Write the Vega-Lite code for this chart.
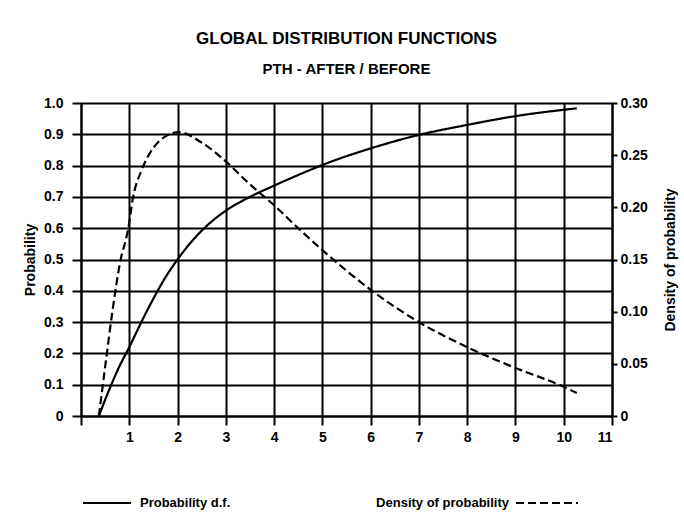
{
  "$schema": "https://vega.github.io/schema/vega-lite/v6.json",
  "width": 531,
  "height": 313,
  "autosize": {"type": "none"},
  "padding": {"left": 81, "top": 103, "right": 72, "bottom": 97},
  "background": "white",
  "config": {
    "font": "Liberation Sans",
    "view": {"stroke": null},
    "axis": {"labelFontWeight": "bold", "titleFontWeight": "bold", "labelColor": "black", "titleColor": "black", "domainColor": "black", "tickColor": "black", "domainWidth": 2, "tickWidth": 2}
  },
  "title": {
    "text": "GLOBAL DISTRIBUTION FUNCTIONS",
    "subtitle": "PTH - AFTER / BEFORE",
    "anchor": "middle",
    "fontSize": 17,
    "fontWeight": "bold",
    "subtitleFontSize": 15,
    "subtitleFontWeight": "bold",
    "subtitleColor": "black",
    "color": "black",
    "subtitlePadding": 14,
    "offset": 18
  },
  "data": {
    "values": [
      {"series": "Probability d.f.", "x": 0.37, "v": 0},
      {"series": "Probability d.f.", "x": 0.6, "v": 0.09},
      {"series": "Probability d.f.", "x": 0.8, "v": 0.16},
      {"series": "Probability d.f.", "x": 1.0, "v": 0.22},
      {"series": "Probability d.f.", "x": 1.25, "v": 0.3},
      {"series": "Probability d.f.", "x": 1.5, "v": 0.375},
      {"series": "Probability d.f.", "x": 1.75, "v": 0.443},
      {"series": "Probability d.f.", "x": 2.0, "v": 0.5},
      {"series": "Probability d.f.", "x": 2.25, "v": 0.55},
      {"series": "Probability d.f.", "x": 2.5, "v": 0.592},
      {"series": "Probability d.f.", "x": 2.75, "v": 0.627},
      {"series": "Probability d.f.", "x": 3.0, "v": 0.656},
      {"series": "Probability d.f.", "x": 3.5, "v": 0.7},
      {"series": "Probability d.f.", "x": 4.0, "v": 0.736},
      {"series": "Probability d.f.", "x": 4.5, "v": 0.77},
      {"series": "Probability d.f.", "x": 5.0, "v": 0.802},
      {"series": "Probability d.f.", "x": 6.0, "v": 0.855},
      {"series": "Probability d.f.", "x": 7.0, "v": 0.898},
      {"series": "Probability d.f.", "x": 8.0, "v": 0.93},
      {"series": "Probability d.f.", "x": 9.0, "v": 0.958},
      {"series": "Probability d.f.", "x": 10.27, "v": 0.983},
      {"series": "Density of probability", "x": 0.37, "v": 0},
      {"series": "Density of probability", "x": 0.5, "v": 0.047},
      {"series": "Density of probability", "x": 0.65, "v": 0.1},
      {"series": "Density of probability", "x": 0.8, "v": 0.145},
      {"series": "Density of probability", "x": 0.98, "v": 0.18},
      {"series": "Density of probability", "x": 1.08, "v": 0.21},
      {"series": "Density of probability", "x": 1.25, "v": 0.235},
      {"series": "Density of probability", "x": 1.5, "v": 0.257},
      {"series": "Density of probability", "x": 1.75, "v": 0.268},
      {"series": "Density of probability", "x": 2.03, "v": 0.272},
      {"series": "Density of probability", "x": 2.5, "v": 0.262},
      {"series": "Density of probability", "x": 3.0, "v": 0.244},
      {"series": "Density of probability", "x": 3.5, "v": 0.222},
      {"series": "Density of probability", "x": 4.0, "v": 0.202},
      {"series": "Density of probability", "x": 4.5, "v": 0.18},
      {"series": "Density of probability", "x": 5.0, "v": 0.159},
      {"series": "Density of probability", "x": 6.0, "v": 0.121},
      {"series": "Density of probability", "x": 7.0, "v": 0.09},
      {"series": "Density of probability", "x": 8.0, "v": 0.066},
      {"series": "Density of probability", "x": 9.0, "v": 0.046},
      {"series": "Density of probability", "x": 10.0, "v": 0.028},
      {"series": "Density of probability", "x": 10.27, "v": 0.022}
    ]
  },
  "encoding": {
    "x": {
      "field": "x",
      "type": "quantitative",
      "scale": {"domain": [0, 11], "nice": false, "zero": false},
      "axis": {
        "title": null,
        "values": [0, 1, 2, 3, 4, 5, 6, 7, 8, 9, 10, 11],
        "labelExpr": "datum.value == 0 ? '' : datum.label",
        "labelFontSize": 14,
        "labelPadding": 5,
        "tickSize": 9,
        "grid": true,
        "gridColor": "black",
        "gridWidth": 2,
        "gridOpacity": 1
      }
    }
  },
  "layer": [
    {
      "transform": [{"filter": "datum.series == 'Probability d.f.'"}],
      "mark": {"type": "line", "color": "black", "strokeWidth": 2.2, "interpolate": "monotone"},
      "encoding": {
        "y": {
          "field": "v",
          "type": "quantitative",
          "scale": {"domain": [0, 1], "nice": false},
          "axis": {
            "orient": "left",
            "title": "Probability",
            "titleFontSize": 14,
            "titlePadding": 6,
            "values": [0, 0.1, 0.2, 0.3, 0.4, 0.5, 0.6, 0.7, 0.8, 0.9, 1.0],
            "labelExpr": "datum.value == 0 ? '0' : format(datum.value, '.1f')",
            "labelFontSize": 14,
            "labelPadding": 9,
            "tickSize": 9,
            "grid": true,
            "gridColor": "black",
            "gridWidth": 2,
            "gridOpacity": 1
          }
        },
        "strokeDash": {
          "field": "series",
          "type": "nominal",
          "scale": {"domain": ["Probability d.f."], "range": [[1, 0]]},
          "legend": {
            "title": null,
            "orient": "none",
            "legendX": 1,
            "legendY": 375,
            "symbolType": "stroke",
            "symbolSize": 2304,
            "symbolStrokeWidth": 2,
            "symbolStrokeColor": "black",
            "labelFontSize": 13,
            "labelFontWeight": "bold",
            "labelColor": "black",
            "labelOffset": 8
          }
        }
      }
    },
    {
      "transform": [{"filter": "datum.series == 'Density of probability'"}],
      "mark": {"type": "line", "color": "black", "strokeWidth": 2.2, "interpolate": "monotone"},
      "encoding": {
        "y": {
          "field": "v",
          "type": "quantitative",
          "scale": {"domain": [0, 0.3], "nice": false},
          "axis": {
            "orient": "right",
            "title": "Density of probability",
            "titleAngle": -90,
            "titleFontSize": 14,
            "titlePadding": 30,
            "values": [0, 0.05, 0.1, 0.15, 0.2, 0.25, 0.3],
            "labelExpr": "datum.value == 0 ? '0' : format(datum.value, '.2f')",
            "labelFontSize": 14,
            "labelPadding": 3,
            "tickSize": 5,
            "grid": false
          }
        },
        "strokeDash": {
          "field": "series",
          "type": "nominal",
          "scale": {"domain": ["Density of probability"], "range": [[8, 4]]},
          "legend": {
            "title": null,
            "orient": "none",
            "legendX": 434,
            "legendY": 368,
            "symbolType": "stroke",
            "symbolSize": 3844,
            "symbolStrokeWidth": 2,
            "symbolStrokeColor": "black",
            "labelFontSize": 13,
            "labelFontWeight": "bold",
            "labelColor": "black",
            "labelAlign": "right",
            "labelOffset": -70
          }
        }
      }
    }
  ],
  "resolve": {"scale": {"y": "independent", "strokeDash": "independent"}, "legend": {"strokeDash": "independent"}}
}
